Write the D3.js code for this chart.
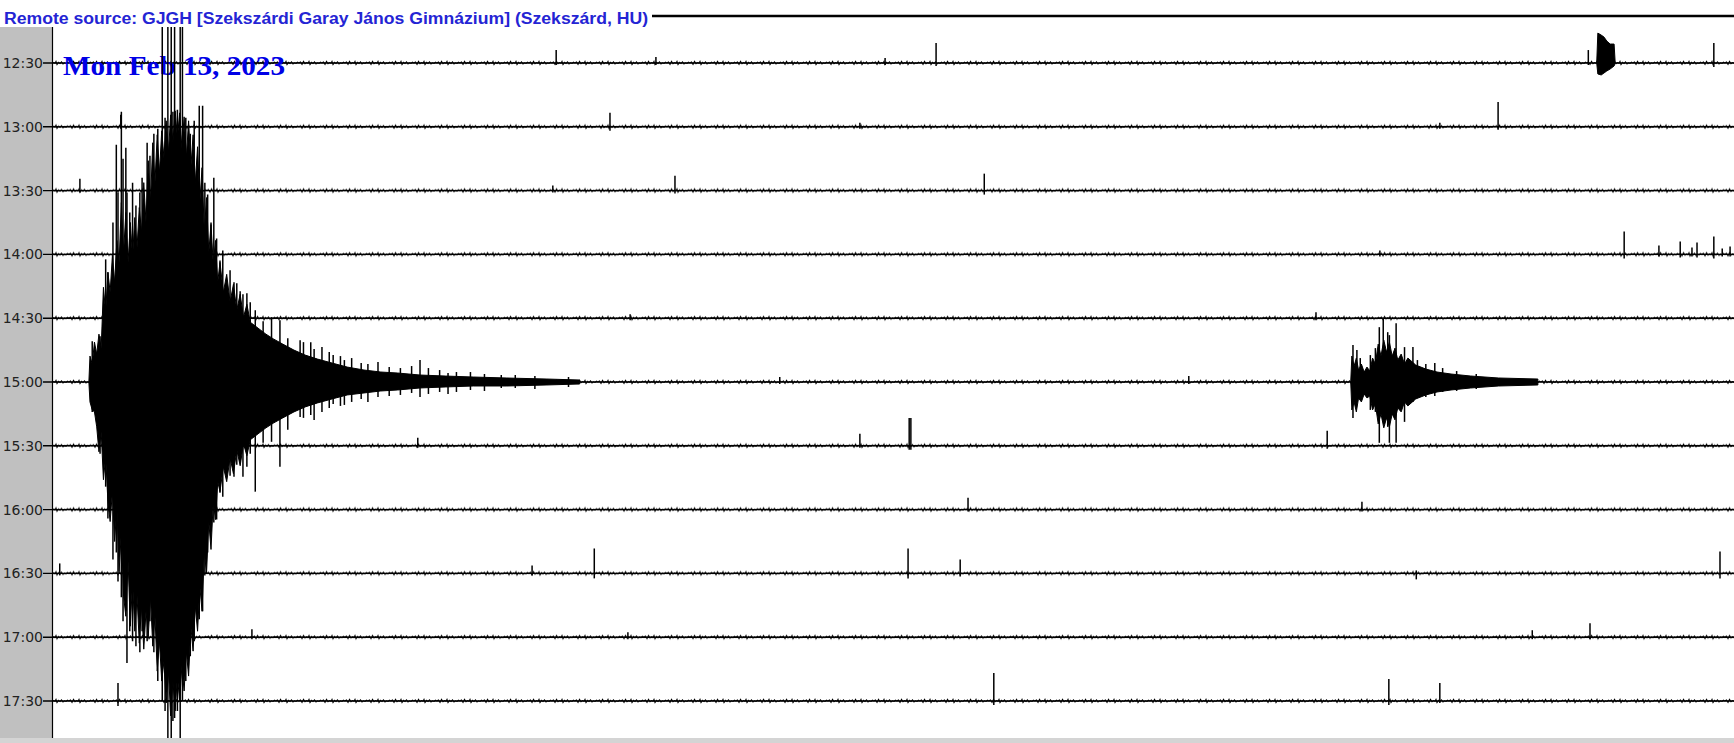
<!DOCTYPE html>
<html>
<head>
<meta charset="utf-8">
<script src="https://cdn.jsdelivr.net/npm/d3@7"></script>
<style>
  body { margin: 0; background: #fff; }
  svg { display: block; }
</style>
</head>
<body>
<svg id="heli"></svg>
<script>
const W = 1734, H = 743;

// row start times (30 min per row)
const rowLabels = ['12:30', '13:00', '13:30', '14:00', '14:30', '15:00',
  '15:30', '16:00', '16:30', '17:00', '17:30'];

// minutes covered by one row
const minutesDomain = [0, 30];

// main quake in the 15:00 row: [minute, up, down] peaks/troughs of the trace
const quakeEnvelope = [
  [0.64, 0, 0], [0.66, 26, -20], [0.70, 18, -28], [0.74, 40, -30], [0.78, 28, -45],
  [0.82, 48, -70], [0.86, 34, -50], [0.90, 95, -98], [0.94, 70, -75], [0.98, 110, -120],
  [1.02, 90, -140], [1.06, 127, -110], [1.10, 100, -160], [1.14, 142, -125], [1.18, 120, -190],
  [1.22, 180, -150], [1.26, 130, -215], [1.30, 170, -235], [1.34, 120, -180], [1.38, 160, -245],
  [1.42, 125, -200], [1.46, 165, -250], [1.50, 135, -215], [1.54, 175, -262], [1.58, 150, -225],
  [1.62, 200, -268], [1.66, 160, -230], [1.70, 222, -255], [1.74, 180, -215], [1.78, 240, -265],
  [1.82, 200, -235], [1.86, 248, -290], [1.90, 210, -260], [1.94, 252, -300], [1.98, 225, -280],
  [2.02, 262, -322], [2.06, 230, -290], [2.10, 268, -335], [2.14, 240, -300], [2.18, 272, -330],
  [2.22, 245, -295], [2.26, 270, -320], [2.30, 235, -285], [2.34, 266, -310], [2.38, 225, -270],
  [2.42, 262, -295], [2.46, 215, -245], [2.50, 248, -270], [2.54, 200, -225], [2.58, 236, -250],
  [2.62, 180, -205], [2.66, 215, -230], [2.70, 150, -170], [2.74, 185, -192], [2.78, 130, -140],
  [2.82, 158, -168], [2.86, 118, -120], [2.90, 142, -138], [2.94, 100, -100], [2.98, 120, -110],
  [3.04, 90, -85], [3.10, 108, -100], [3.16, 80, -76], [3.22, 98, -92], [3.28, 72, -68],
  [3.34, 88, -84], [3.40, 65, -62], [3.46, 78, -74], [3.52, 60, -58], [3.66, 54, -52],
  [3.80, 48, -46], [3.94, 43, -41], [4.10, 38, -36], [4.30, 32, -30], [4.50, 27, -25],
  [4.72, 23, -21], [4.98, 19, -17], [5.25, 15, -13], [5.55, 12, -11], [5.85, 10, -9],
  [6.15, 9, -8], [6.55, 7, -6], [7.00, 6, -5], [7.50, 5, -4], [8.10, 4, -4],
  [8.80, 3, -3], [9.40, 2, -2]
];

// single swings sticking out of the quake: [minute, up, down]
const quakeSpikes = [
  [0.70, 41, -30], [0.84, 46, -72], [0.94, 123, -105], [0.98, 110, -137], [1.07, 160, -178],
  [1.13, 238, -171], [1.16, 190, -200], [1.22, 271, -216], [1.25, 224, -240], [1.30, 235, -230],
  [1.32, 190, -282], [1.37, 170, -250], [1.42, 200, -260], [1.48, 177, -265], [1.55, 190, -271],
  [1.59, 205, -250], [1.68, 240, -260], [1.73, 227, -240], [1.80, 249, -271], [1.87, 254, -300],
  [1.95, 360, -320], [2.00, 265, -330], [2.05, 360, -360], [2.11, 360, -360], [2.14, 271, -340],
  [2.17, 360, -337], [2.22, 273, -330], [2.27, 360, -360], [2.31, 360, -320], [2.37, 265, -300],
  [2.45, 249, -275], [2.52, 262, -260], [2.61, 277, -238], [2.67, 277, -230], [2.71, 200, -194],
  [2.76, 188, -171], [2.82, 160, -150], [2.87, 205, -141], [2.92, 144, -138], [2.98, 122, -111],
  [3.03, 132, -115], [3.16, 112, -94], [3.23, 100, -95], [3.28, 99, -83], [3.34, 91, -81],
  [3.39, 88, -95], [3.46, 89, -85], [3.52, 80, -72], [3.61, 72, -110], [3.75, 61, -61],
  [3.90, 65, -60], [4.05, 62, -85], [4.19, 44, -48], [4.41, 42, -35], [4.47, 40, -36],
  [4.60, 40, -33], [4.66, 33, -38], [4.80, 35, -30], [4.93, 30, -26], [5.00, 27, -22],
  [5.13, 26, -24], [5.20, 22, -23], [5.33, 24, -20], [5.50, 19, -17], [5.62, 18, -20],
  [5.80, 20, -15], [6.00, 15, -14], [6.20, 14, -13], [6.40, 16, -11], [6.55, 22, -15],
  [6.70, 14, -12], [6.90, 12, -10], [7.05, 9, -12], [7.20, 10, -10], [7.45, 10, -8],
  [7.70, 8, -9], [8.00, 7, -6], [8.25, 7, -6], [8.60, 6, -7], [9.20, 5, -5]
];

// second event in the 15:00 row
const event2Envelope = [
  [23.16, 0, 0], [23.18, 26, -28], [23.22, 16, -20], [23.26, 24, -30], [23.30, 12, -16],
  [23.35, 18, -20], [23.40, 10, -12], [23.45, 15, -16], [23.50, 11, -14], [23.55, 24, -28],
  [23.60, 18, -22], [23.65, 38, -42], [23.70, 26, -32], [23.75, 42, -46], [23.80, 30, -36],
  [23.85, 40, -45], [23.90, 26, -32], [23.95, 34, -38], [24.00, 22, -26], [24.06, 28, -30],
  [24.12, 18, -20], [24.18, 24, -24], [24.32, 17, -17], [24.50, 13, -13], [24.70, 10, -10],
  [24.95, 8, -8], [25.30, 6, -6], [25.80, 4, -4], [26.50, 3, -3]
];
const event2Spikes = [
  [23.20, 37, -36], [23.27, 32, -20], [23.33, 24, -18], [23.51, 27, -28], [23.60, 34, -30],
  [23.67, 55, -61], [23.74, 64, -40], [23.82, 50, -45], [23.85, 47, -61], [23.97, 59, -61],
  [24.12, 35, -40], [24.27, 35, -20], [24.35, 22, -16], [24.50, 18, -15], [24.66, 19, -14],
  [24.80, 14, -10], [25.05, 11, -9], [25.40, 8, -7]
];

// small wedge in the 12:30 row
const wedgeEnvelope = [
  [27.55, 0, 0], [27.57, 30, -11], [27.63, 28, -12], [27.68, 26, -10],
  [27.73, 22, -8], [27.79, 19, -6], [27.86, 19, -3], [27.88, 0, 0]
];

// isolated spikes: [row, minute, up, down]
const spikes = [
  [0, 8.98, 13, -2], [0, 10.76, 6, -2], [0, 14.85, 5, -2], [0, 15.76, 20, -3],
  [0, 27.40, 13, -2], [0, 29.64, 20, -4],
  [1, 1.21, 12, -2], [1, 9.94, 14, -4], [1, 25.79, 25, -3], [1, 14.40, 4, -2], [1, 24.75, 4, -2],
  [2, 0.48, 12, -2], [2, 8.92, 5, -2], [2, 11.10, 15, -3], [2, 16.62, 17, -4],
  [3, 23.68, 4, -2], [3, 28.04, 23, -4], [3, 28.66, 9, -2], [3, 29.04, 13, -3],
  [3, 29.25, 7, -2], [3, 29.34, 12, -3], [3, 29.64, 18, -4], [3, 29.79, 6, -2], [3, 29.93, 8, -2],
  [4, 22.54, 6, -2], [4, 10.30, 4, -2],
  [5, 12.97, 5, -2], [5, 20.27, 6, -2],
  [6, 6.51, 8, -2], [6, 14.40, 12, -2], [6, 15.28, 28, -4], [6, 15.31, 28, -4], [6, 22.74, 15, -3],
  [7, 16.33, 12, -2], [7, 23.36, 8, -2],
  [8, 0.12, 10, -2], [8, 8.55, 8, -2], [8, 9.66, 25, -5], [8, 15.26, 25, -5],
  [8, 16.19, 14, -3], [8, 24.33, 3, -6], [8, 29.75, 22, -5],
  [9, 3.55, 8, -2], [9, 10.26, 5, -2], [9, 26.40, 7, -2], [9, 27.43, 14, -2],
  [10, 1.16, 18, -5], [10, 16.79, 28, -4], [10, 23.84, 22, -4], [10, 24.75, 18, -2]
];

const headerText = 'Remote source: GJGH [Szekszárdi Garay János Gimnázium] (Szekszárd, HU)';
const dateText = 'Mon Feb 13, 2023';

const plotLeft = 53, plotTop = 27, plotBottom = 738;

const svg = d3.select('#heli').attr('width', W).attr('height', H);

const x = d3.scaleLinear().domain(minutesDomain).range([plotLeft, W]);
const rowY = d3.scalePoint().domain(rowLabels).range([63, 701]);
const rowStep = rowY.step();
const amp = d3.scaleLinear().domain([0, 64]).range([0, rowStep]);

// background
svg.append('rect').attr('width', W).attr('height', H).attr('fill', '#fff');

// gray label strip
svg.append('rect')
  .attr('x', 0).attr('y', plotTop)
  .attr('width', plotLeft).attr('height', plotBottom - plotTop)
  .attr('fill', '#c0c0c0');
svg.append('line')
  .attr('x1', plotLeft - 0.5).attr('x2', plotLeft - 0.5)
  .attr('y1', plotTop).attr('y2', plotBottom)
  .attr('stroke', '#000').attr('stroke-width', 1.2);

// bottom status bar
svg.append('rect')
  .attr('x', 0).attr('y', plotBottom)
  .attr('width', W).attr('height', H - plotBottom)
  .attr('fill', '#d4d4d4');

// header
svg.append('text')
  .attr('x', 4).attr('y', 24)
  .attr('font-family', 'Liberation Sans, Arial, sans-serif')
  .attr('font-weight', 'bold')
  .attr('font-size', 16)
  .attr('textLength', 644)
  .attr('lengthAdjust', 'spacingAndGlyphs')
  .attr('fill', '#2424d4')
  .text(headerText);
svg.append('line')
  .attr('x1', 652).attr('x2', W)
  .attr('y1', 16).attr('y2', 16)
  .attr('stroke', '#000').attr('stroke-width', 2.5);

// jitter texture for the quiet trace
const defs = svg.append('defs');
defs.append('pattern')
  .attr('id', 'noise')
  .attr('patternUnits', 'userSpaceOnUse')
  .attr('x', 0).attr('y', -4)
  .attr('width', 23).attr('height', 8)
  .append('path')
  .attr('d', 'M0,4 L1.5,3 L3,5.4 L4.5,2.4 L6,4.8 L7.5,3.6 L9,4.2 L10,2.4 L11,5.6 L12.5,3.4 L14,4.6 L15.5,2.8 L17,5 L18.5,3.8 L20,4.4 L21.5,3.2 L23,4')
  .attr('fill', 'none').attr('stroke', '#000').attr('stroke-width', 1.1);

defs.append('clipPath').attr('id', 'plotClip')
  .append('rect')
  .attr('x', plotLeft).attr('y', plotTop)
  .attr('width', W - plotLeft).attr('height', plotBottom - plotTop);

// row labels + baselines
const rows = svg.append('g').selectAll('g')
  .data(rowLabels)
  .enter()
  .append('g')
  .attr('transform', d => `translate(0,${rowY(d)})`);

rows.append('text')
  .attr('x', 43).attr('y', 5)
  .attr('text-anchor', 'end')
  .attr('font-family', 'DejaVu Sans, sans-serif')
  .attr('font-size', 14)
  .attr('fill', '#222')
  .text(d => d);

rows.append('line')
  .attr('x1', 43).attr('x2', W)
  .attr('y1', 0).attr('y2', 0)
  .attr('stroke', '#000').attr('stroke-width', 1.4);

rows.append('rect')
  .attr('x', plotLeft).attr('y', -4)
  .attr('width', W - plotLeft).attr('height', 8)
  .attr('fill', 'url(#noise)');

// date stamp
svg.append('text')
  .attr('x', 63).attr('y', 75)
  .attr('font-family', 'Liberation Serif, Times New Roman, serif')
  .attr('font-weight', 'bold')
  .attr('font-size', 27)
  .attr('textLength', 222)
  .attr('lengthAdjust', 'spacingAndGlyphs')
  .attr('fill', '#0000e6')
  .text(dateText);

// events
const traces = svg.append('g').attr('clip-path', 'url(#plotClip)');

const area = d3.area()
  .x(d => x(d[0]))
  .y0(d => -amp(d[2]))
  .y1(d => -amp(d[1]));

const events = [
  { row: '15:00', env: quakeEnvelope, spikes: quakeSpikes },
  { row: '15:00', env: event2Envelope, spikes: event2Spikes },
  { row: '12:30', env: wedgeEnvelope, spikes: [] }
];

events.forEach(ev => {
  const g = traces.append('g').attr('transform', `translate(0,${rowY(ev.row)})`);
  g.append('path')
    .datum(ev.env)
    .attr('d', area)
    .attr('fill', '#000')
    .attr('stroke', '#000')
    .attr('stroke-width', 1);
  g.selectAll('line')
    .data(ev.spikes)
    .enter()
    .append('line')
    .attr('x1', d => x(d[0])).attr('x2', d => x(d[0]))
    .attr('y1', d => -amp(d[1])).attr('y2', d => -amp(d[2]))
    .attr('stroke', '#000').attr('stroke-width', 1.5);
});

// isolated spikes
traces.selectAll('line.spike')
  .data(spikes)
  .enter()
  .append('line')
  .attr('class', 'spike')
  .attr('x1', d => x(d[1])).attr('x2', d => x(d[1]))
  .attr('y1', d => rowY(rowLabels[d[0]]) - amp(d[2]))
  .attr('y2', d => rowY(rowLabels[d[0]]) - amp(d[3]))
  .attr('stroke', '#000').attr('stroke-width', 1.5);
</script>
</body>
</html>
